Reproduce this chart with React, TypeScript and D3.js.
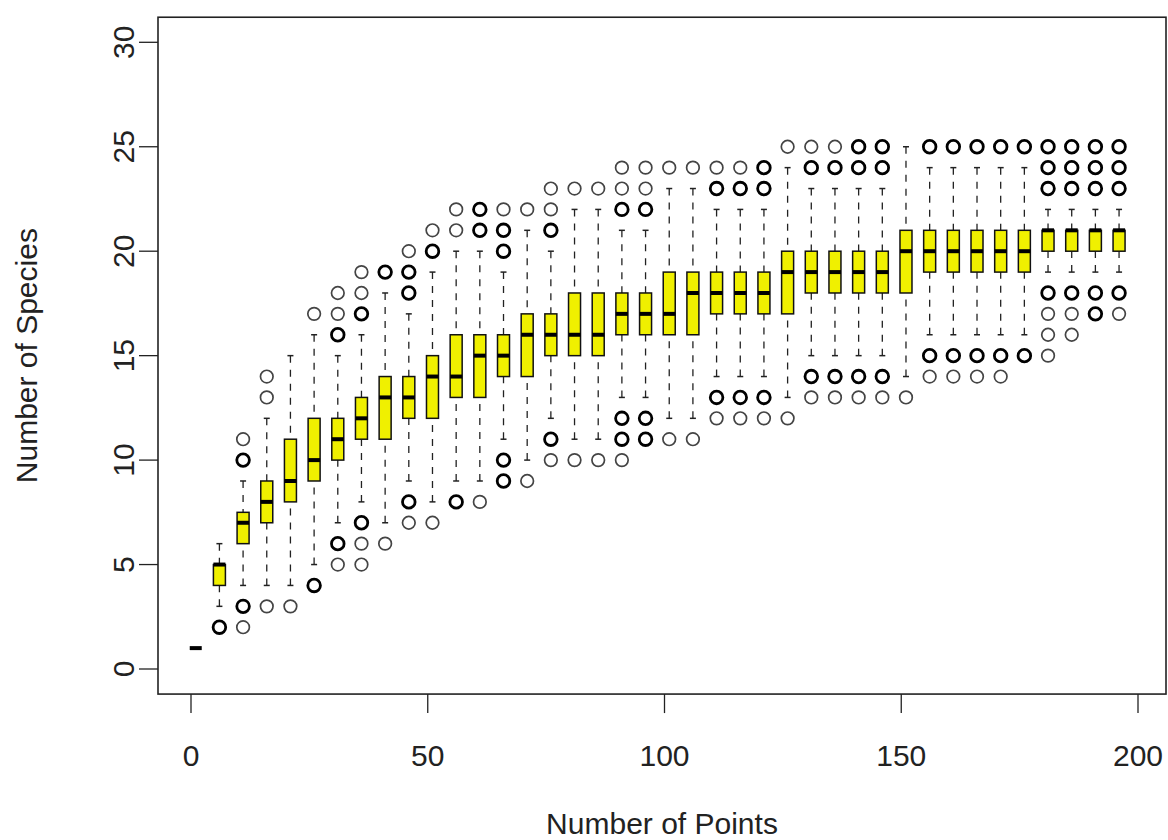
import React from "react";
import * as d3 from "d3";

const points = [1, 6, 11, 16, 21, 26, 31, 36, 41, 46, 51, 56, 61, 66, 71, 76, 81, 86, 91, 96, 101, 106, 111, 116, 121, 126, 131, 136, 141, 146, 151, 156, 161, 166, 171, 176, 181, 186, 191, 196];
const lowerWhisker = [1, 3, 4, 4, 4, 5, 7, 8, 7, 9, 8, 9, 9, 11, 10, 12, 11, 11, 13, 13, 12, 12, 14, 14, 14, 13, 15, 15, 15, 15, 14, 16, 16, 16, 16, 16, 19, 19, 19, 19];
const q1 = [1, 4, 6, 7, 8, 9, 10, 11, 11, 12, 12, 13, 13, 14, 14, 15, 15, 15, 16, 16, 16, 16, 17, 17, 17, 17, 18, 18, 18, 18, 18, 19, 19, 19, 19, 19, 20, 20, 20, 20];
const medians = [1, 5, 7, 8, 9, 10, 11, 12, 13, 13, 14, 14, 15, 15, 16, 16, 16, 16, 17, 17, 17, 18, 18, 18, 18, 19, 19, 19, 19, 19, 20, 20, 20, 20, 20, 20, 21, 21, 21, 21];
const q3 = [1, 5, 7.5, 9, 11, 12, 12, 13, 14, 14, 15, 16, 16, 16, 17, 17, 18, 18, 18, 18, 19, 19, 19, 19, 19, 20, 20, 20, 20, 20, 21, 21, 21, 21, 21, 21, 21, 21, 21, 21];
const upperWhisker = [1, 6, 9, 12, 15, 16, 15, 16, 18, 17, 19, 20, 20, 19, 21, 20, 22, 22, 21, 21, 23, 23, 22, 22, 22, 24, 23, 23, 23, 23, 25, 24, 24, 24, 24, 24, 22, 22, 22, 22];
// [value, multiplicity] (multiplicity > 1 drawn as heavier, overlapping circles)
const outliers: [number, number][][] = [
  [],
  [[2, 2]],
  [[2, 1], [3, 2], [10, 2], [11, 1]],
  [[3, 1], [13, 1], [14, 1]],
  [[3, 1]],
  [[4, 2], [17, 1]],
  [[5, 1], [6, 2], [16, 2], [17, 1], [18, 1]],
  [[5, 1], [6, 1], [7, 2], [17, 2], [18, 1], [19, 1]],
  [[6, 1], [19, 2]],
  [[7, 1], [8, 2], [18, 2], [19, 2], [20, 1]],
  [[7, 1], [20, 2], [21, 1]],
  [[8, 2], [21, 1], [22, 1]],
  [[8, 1], [21, 2], [22, 2]],
  [[9, 2], [10, 2], [20, 2], [21, 2], [22, 1]],
  [[9, 1], [22, 1]],
  [[10, 1], [11, 2], [21, 2], [22, 1], [23, 1]],
  [[10, 1], [23, 1]],
  [[10, 1], [23, 1]],
  [[10, 1], [11, 2], [12, 2], [22, 2], [23, 1], [24, 1]],
  [[11, 2], [12, 2], [22, 2], [23, 1], [24, 1]],
  [[11, 1], [24, 1]],
  [[11, 1], [24, 1]],
  [[12, 1], [13, 2], [23, 2], [24, 1]],
  [[12, 1], [13, 2], [23, 2], [24, 1]],
  [[12, 1], [13, 2], [23, 2], [24, 2]],
  [[12, 1], [25, 1]],
  [[13, 1], [14, 2], [24, 2], [25, 1]],
  [[13, 1], [14, 2], [24, 2], [25, 1]],
  [[13, 1], [14, 2], [24, 2], [25, 2]],
  [[13, 1], [14, 2], [24, 2], [25, 2]],
  [[13, 1]],
  [[14, 1], [15, 2], [25, 2]],
  [[14, 1], [15, 2], [25, 2]],
  [[14, 1], [15, 2], [25, 2]],
  [[14, 1], [15, 2], [25, 2]],
  [[15, 2], [25, 2]],
  [[15, 1], [16, 1], [17, 1], [18, 2], [23, 2], [24, 2], [25, 2]],
  [[16, 1], [17, 1], [18, 2], [23, 2], [24, 2], [25, 2]],
  [[17, 2], [18, 2], [23, 2], [24, 2], [25, 2]],
  [[17, 1], [18, 2], [23, 2], [24, 2], [25, 2]],
];
const xTicks = [0, 50, 100, 150, 200];
const yTicks = [0, 5, 10, 15, 20, 25, 30];
const xTitle = "Number of Points";
const yTitle = "Number of Species";

const W = 1168;
const H = 840;
const FONT = "'Liberation Sans', Arial, Helvetica, sans-serif";

export default function App() {
  const x = d3.scaleLinear().domain([0, 200]).range([191, 1138]);
  const y = d3.scaleLinear().domain([0, 30]).range([669, 42.3]);
  const xLim = [x.invert(158), x.invert(1166)];
  const yLim = [-1.2, 31.2];
  const left = x(xLim[0]);
  const right = x(xLim[1]);
  const top = y(yLim[1]);
  const bottom = y(yLim[0]);
  const boxW = 12;
  const stapleW = 6;
  const tickLen = 19;

  return (
    <svg
      width={W}
      height={H}
      viewBox={`0 0 ${W} ${H}`}
      style={{ position: "absolute", left: 0, top: 0, display: "block", background: "#fff" }}
      fontFamily={FONT}
    >
      <rect x={0} y={0} width={W} height={H} fill="#fff" />
      {points.map((p, i) => {
        const cx = x(p);
        const lw = lowerWhisker[i];
        const uw = upperWhisker[i];
        return (
          <g key={p}>
            {uw > q3[i] && (
              <>
                <line x1={cx} x2={cx} y1={y(uw)} y2={y(q3[i])} stroke="#222" strokeWidth={1.3} strokeDasharray="7,7" />
                <line x1={cx - stapleW / 2} x2={cx + stapleW / 2} y1={y(uw)} y2={y(uw)} stroke="#222" strokeWidth={1.5} />
              </>
            )}
            {lw < q1[i] && (
              <>
                <line x1={cx} x2={cx} y1={y(lw)} y2={y(q1[i])} stroke="#222" strokeWidth={1.3} strokeDasharray="7,7" />
                <line x1={cx - stapleW / 2} x2={cx + stapleW / 2} y1={y(lw)} y2={y(lw)} stroke="#222" strokeWidth={1.5} />
              </>
            )}
            <rect
              x={cx - boxW / 2}
              y={y(q3[i])}
              width={boxW}
              height={Math.max(0, y(q1[i]) - y(q3[i]))}
              fill="#f0f000"
              stroke="#111"
              strokeWidth={1.5}
            />
            <line
              x1={cx - boxW / 2}
              x2={cx + boxW / 2}
              y1={y(medians[i])}
              y2={y(medians[i])}
              stroke="#000"
              strokeWidth={4}
            />
            {outliers[i].map(([v, n]) => (
              <circle
                key={v}
                cx={cx}
                cy={y(v)}
                r={6.3}
                fill="none"
                stroke={n > 1 ? "#000" : "#444"}
                strokeWidth={n > 1 ? 2.8 : 1.7}
              />
            ))}
          </g>
        );
      })}

      {/* plot frame */}
      <rect x={left} y={top} width={right - left} height={bottom - top} fill="none" stroke="#222" strokeWidth={1.6} />

      {/* x axis */}
      {xTicks.map((t) => (
        <g key={"x" + t}>
          <line x1={x(t)} x2={x(t)} y1={bottom} y2={bottom + tickLen} stroke="#222" strokeWidth={1.3} />
          <text x={x(t)} y={766} textAnchor="middle" fontSize={30} fill="#222">
            {t}
          </text>
        </g>
      ))}
      {/* y axis */}
      {yTicks.map((t) => (
        <g key={"y" + t}>
          <line x1={left - tickLen} x2={left} y1={y(t)} y2={y(t)} stroke="#222" strokeWidth={1.3} />
          <text
            transform={`translate(134,${y(t)}) rotate(-90)`}
            textAnchor="middle"
            fontSize={30}
            fill="#222"
          >
            {t}
          </text>
        </g>
      ))}
      <text x={(left + right) / 2} y={834} textAnchor="middle" fontSize={30} fill="#222">
        {xTitle}
      </text>
      <text
        transform={`translate(37,${(top + bottom) / 2}) rotate(-90)`}
        textAnchor="middle"
        fontSize={30}
        fill="#222"
      >
        {yTitle}
      </text>
    </svg>
  );
}
